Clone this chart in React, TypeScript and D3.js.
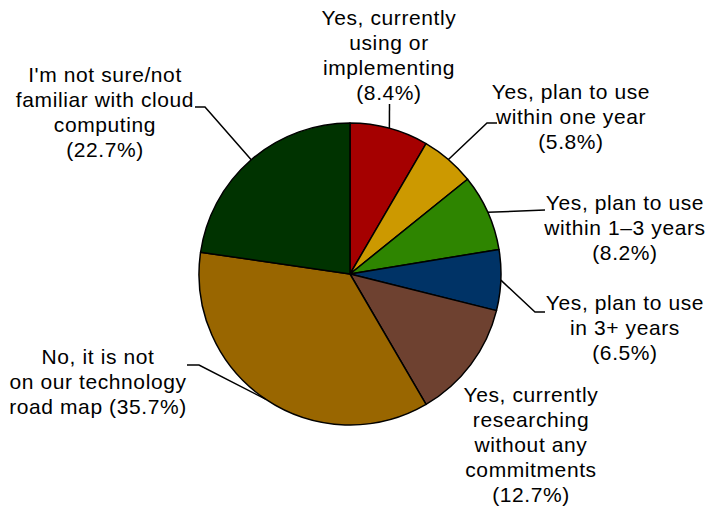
import React from "react";
import * as d3 from "d3";

const categories = [
  "Yes, currently using or implementing",
  "Yes, plan to use within one year",
  "Yes, plan to use within 1–3 years",
  "Yes, plan to use in 3+ years",
  "Yes, currently researching without any commitments",
  "No, it is not on our technology road map",
  "I'm not sure/not familiar with cloud computing",
];
const values = [8.4, 5.8, 8.2, 6.5, 12.7, 35.7, 22.7];
const colors = ["#A50000", "#CC9900", "#2E8500", "#003366", "#6E4130", "#996600", "#003300"];

const labelLines = [
  ["Yes, currently", "using or", "implementing", "(8.4%)"],
  ["Yes, plan to use", "within one year", "(5.8%)"],
  ["Yes, plan to use", "within 1–3 years", "(8.2%)"],
  ["Yes, plan to use", "in 3+ years", "(6.5%)"],
  ["Yes, currently", "researching", "without any", "commitments", "(12.7%)"],
  ["No, it is not", "on our technology", "road map (35.7%)"],
  ["I'm not sure/not", "familiar with cloud", "computing", "(22.7%)"],
];
// label layout: center x, first baseline y
const labelPos: [number, number][] = [
  [389, 25],
  [571, 99],
  [625, 210],
  [625, 310],
  [531, 402],
  [98, 364],
  [105, 82],
];
// leader polyline points after the slice edge point (null = no leader)
const leaderPts: ([number, number][] | null)[] = [
  [[389.5, 104]],
  [[487, 123], [497, 123]],
  [[545, 210]],
  [[535, 312], [545, 312]],
  null,
  [[199, 365], [187, 365]],
  [[205, 107], [195, 107]],
];

const W = 707;
const H = 506;
const cx = 350;
const cy = 274;
const R = 151;
const FS = 21;
const LH = 25;

export default function App() {
  const pie = d3.pie<number>().sort(null).value((d) => d)(values);
  const arc = d3.arc<d3.PieArcDatum<number>>().innerRadius(0).outerRadius(R);
  return (
    <svg
      width={W}
      height={H}
      style={{ position: "absolute", left: 0, top: 0, background: "#fff" }}
      fontFamily="Liberation Sans, Arial, sans-serif"
    >
      <g transform={`translate(${cx},${cy})`}>
        {pie.map((p, i) => (
          <path key={i} d={arc(p) || ""} fill={colors[i]} stroke="#000" strokeWidth={1.5} strokeLinejoin="round" />
        ))}
      </g>
      {pie.map((p, i) => {
        const pts = leaderPts[i];
        if (!pts) return null;
        const mid = (p.startAngle + p.endAngle) / 2;
        const sx = cx + R * Math.sin(mid);
        const sy = cy - R * Math.cos(mid);
        const line = d3.line()([[sx, sy], ...pts]);
        return <path key={"l" + i} d={line || ""} fill="none" stroke="#000" strokeWidth={1.5} />;
      })}
      {labelLines.map((lines, i) => (
        <text key={"t" + i} x={labelPos[i][0]} y={labelPos[i][1]} fontSize={FS} letterSpacing={0.6} textAnchor="middle" fill="#000" aria-label={categories[i]}>
          {lines.map((ln, j) => (
            <tspan key={j} x={labelPos[i][0]} y={labelPos[i][1] + j * LH}>
              {ln}
            </tspan>
          ))}
        </text>
      ))}
    </svg>
  );
}
